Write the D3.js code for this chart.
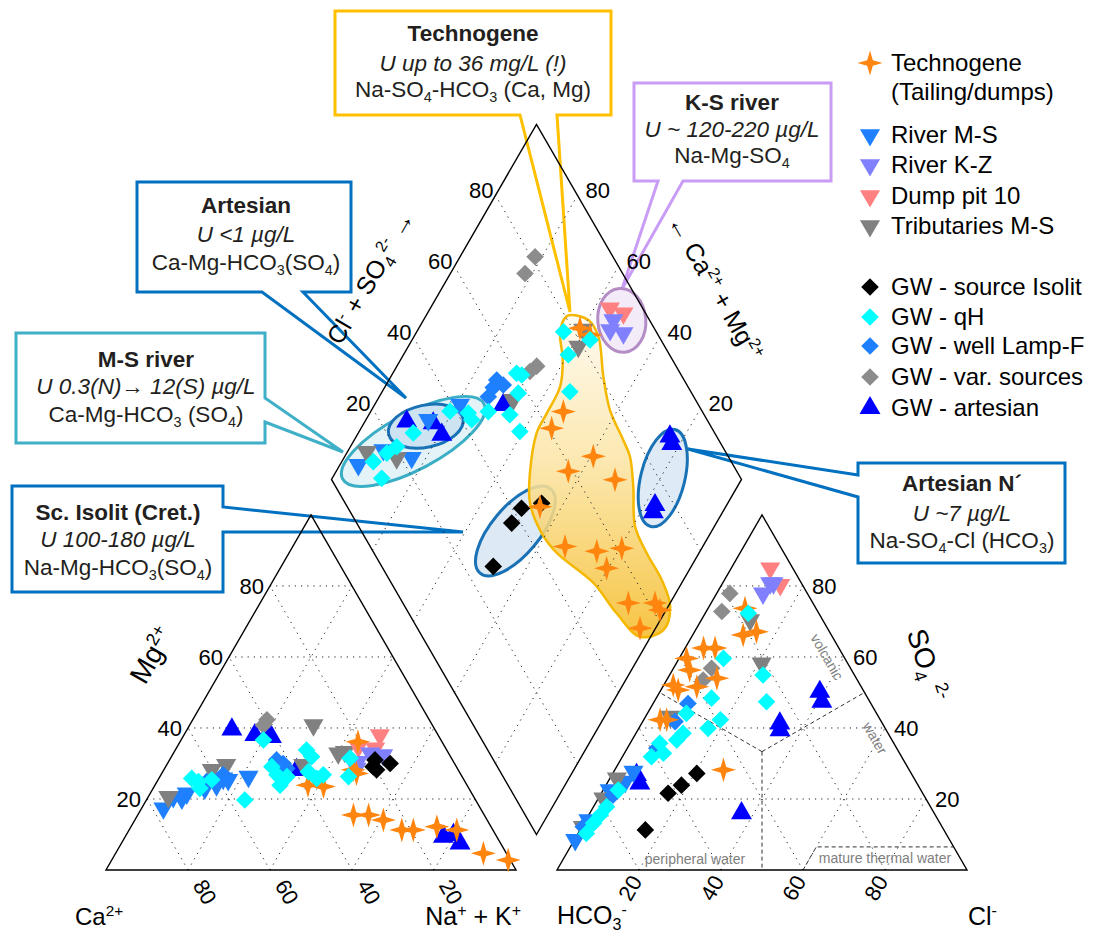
<!DOCTYPE html>
<html>
<head>
<meta charset="utf-8">
<script src="https://cdn.jsdelivr.net/npm/d3@7"></script>
<style>
  body { margin: 0; background: #fff; }
  svg { font-family: "Liberation Sans", Arial, sans-serif; }
</style>
</head>
<body>
<svg id="chart" width="1096" height="936"></svg>
<script>
// --- data ---
// cation triangle: [Mg %, Na+K %]   (Ca = rest)
const techCat = [[36.1,43.4],[28.2,46.2],[27.2,47.5],[23.9,37.3],[23.5,41.3],[15.5,52.6],[15.5,56.3],[14.1,60.6],[11.3,66.5],[11.3,69.3],[12.2,74.6],[11.3,79.9],[4.7,89.7],[2.8,96.7]];
const riverMsCat = [[17.4,5.3],[20.6,6.1],[20.2,8.4],[21.6,8.9],[23,12.6],[23.9,15],[25.8,15.7],[25.4,17.1],[26.3,21.6]];
const riverKzCat = [[32.9,48],[32.4,51.4],[30.5,46.2],[28.6,46.8]];
const pitCat = [[38,47.8],[34.7,44.2],[34.3,48.5]];
const tribCat = [[40.8,30.2],[32.9,40.2],[33.3,41.6],[29.6,14.5],[28.2,11.7],[20.6,4.9],[29.6,33.3]];
const isolitCat = [[31,50.1],[29.1,50.6],[28.2,51.9],[30,54.3]];
const qhCat = [[36.6,20.1],[33.8,32],[31.9,34.2],[29.1,25.9],[26.8,28.3],[23.9,30.5],[27.7,35.5],[25.8,38.5],[26.8,39.6],[31.5,43.8],[26.3,46],[19.7,24],[25.8,8],[24.9,10.1],[23,11.4],[25.4,13.1],[26.3,31]];
const lampCat = [[31,26.1],[30,28.2],[28.6,29.8],[24.9,12.1],[26.8,15.2]];
const varCat = [[42.3,18.1],[40.8,18]];
const artCat = [[39.6,10.9],[38,17.3],[38.5,20.3],[37.5,21.6],[28.2,32.4],[9.4,77.6],[7.5,82.6],[9.9,79.8]];

// anion triangle: [SO4 %, Cl %]   (HCO3 = rest)
const techAn = [[73.7,9],[66.2,12.3],[67.1,15.1],[62.5,4.5],[62.5,7.3],[59.6,1.8],[56.3,4.2],[54,12],[52.1,2.3],[50.7,4.2],[51.6,8.3],[42.3,4],[42.3,5.6],[28.2,26.5]];
const riverMsAn = [[27.7,4.8],[24.9,4.2],[22.5,1.6],[14.1,0.6],[8.5,0.2]];
const riverKzAn = [[77.9,11.3],[80.8,11.6],[80.8,12.4]];
const pitAn = [[85,9.5],[80.3,14.3]];
const tribAn = [[70.4,11.9],[58.2,20.8],[43.2,6],[25.8,1.7],[20.2,1.2],[12.2,0.2]];
const isolitAn = [[27.2,20.5],[23.9,18.4],[21.6,16.3],[11.3,15.9]];
const qhAn = [[72.3,10.5],[59.6,10.8],[54.9,22.8],[47.4,27.4],[48.4,13.5],[42.3,18.7],[39.9,16.9],[44.1,9.5],[38.5,11.5],[36.6,10.9],[35.7,7.2],[31.9,7.1],[32.9,9.5],[22.5,3.7],[17.8,3.2],[15.5,2.8],[10.3,2],[13.2,2.3]];
const lampAn = [[46.9,8.5],[41.8,7.9],[34.3,7.2],[21.1,3.1],[12.2,0.3]];
const varAn = [[77.9,3.2],[72.8,3.8],[56.8,9.3],[53.5,8.9]];
const artAn = [[26.8,6],[24.4,8],[41.3,33.7],[39.4,34.7],[50.2,39],[47.4,40.9],[16,37]];

// diamond: [Cl+SO4 %, Ca+Mg %]
const techDia = [[81.9,60.7],[83.4,57.3],[66.1,53],[60.9,53.5],[67.1,39.4],[58.9,43.4],[69.1,30.8],[47,45.3],[47.5,33.6],[54.6,25.2],[61.1,19.5],[54.6,20.4],[55,10.2],[61.5,3.7],[61.7,1.5],[54.3,3.8]];
const riverMsDia = [[8.6,95.5],[16.8,91.5],[41.9,79.2],[32,84.8],[22.6,83.5]];
const riverKzDia = [[91.2,53.7],[91.8,49.4],[89,53.1]];
const pitDia = [[92,56.2],[94.6,52.2]];
const tribDia = [[82.5,59.7],[78.9,58.5],[12.5,95.3],[55.5,66.9],[18.9,87.1]];
const isolitDia = [[47.9,45.4],[42.3,49.6],[37.8,49.9],[27.2,48.3]];
const qhDia = [[12.4,87.9],[12.7,92.3],[17.2,90.2],[20.5,88.7],[26.5,86.6],[38.5,80.7],[42.7,76],[42.6,74.2],[47.8,71.3],[52.6,65.6],[52.7,60.8],[60.1,69.8],[61.1,68.3],[57.7,66.6],[77.4,64.2],[82.7,56.6],[75.3,59.8],[70.5,54.2]];
const lampDia = [[54.3,73.7],[49.9,73.4],[52.4,73.5],[55.2,71.4]];
const varDia = [[81,81.7],[76.2,81.8],[66,65.9],[63.6,66.8]];
const artDia = [[26.5,89.8],[32.7,83.1],[33.2,79.4],[52.4,68.6],[88.6,23.5],[88,22],[75.3,17.5],[73.9,16.9]];

// Technogene field outline in the diamond [Cl+SO4 %, Ca+Mg %]
const techField = [[81.3,65],[85.1,59.8],[85.2,55],[80.8,48.2],[77.7,41.9],[76.7,34.4],[76,30.4],[72.6,25.4],[67.4,19.3],[66.5,12.7],[66.4,5.3],[64.7,-0.5],[59.8,-2.2],[53.1,2.6],[50.7,11.6],[49.3,21.6],[44.6,34.7],[43.7,41.2],[45.1,48.3],[49.3,52.5],[56.6,56.5],[61.8,56.8],[68.8,57.3],[73.3,60.5],[76.4,64.9],[79.7,65.8]];

const ticks = [20, 40, 60, 80];

// --- series table ---
const tech = {label: "Technogene", color: "#ff850f", shape: "star", cat: techCat, an: techAn, dia: techDia};
const riverMs = {label: "River M-S", color: "#1e80ff", shape: "down", cat: riverMsCat, an: riverMsAn, dia: riverMsDia};
const riverKz = {label: "River K-Z", color: "#8080ff", shape: "down", cat: riverKzCat, an: riverKzAn, dia: riverKzDia};
const pit = {label: "Dump pit 10", color: "#ff8080", shape: "down", cat: pitCat, an: pitAn, dia: pitDia};
const trib = {label: "Tributaries M-S", color: "#808080", shape: "down", cat: tribCat, an: tribAn, dia: tribDia};
const isolit = {label: "GW - source Isolit", color: "#000000", shape: "diamond", cat: isolitCat, an: isolitAn, dia: isolitDia};
const qh = {label: "GW - qH", color: "#00ffff", shape: "diamond", cat: qhCat, an: qhAn, dia: qhDia};
const lamp = {label: "GW - well Lamp-F", color: "#1e80ff", shape: "diamond", cat: lampCat, an: lampAn, dia: lampDia};
const vars = {label: "GW - var. sources", color: "#8c8c8c", shape: "diamond", cat: varCat, an: varAn, dia: varDia};
const art = {label: "GW - artesian", color: "#0000ff", shape: "up", cat: artCat, an: artAn, dia: artDia};

const drawOrder = [art, riverMs, trib, vars, lamp, pit, riverKz, isolit, tech, qh];

// --- geometry ---
const S3 = Math.sqrt(3) / 2;
const L = 410, gap = 41, baseY = 870, leftX0 = 106;
const rightX0 = leftX0 + L + gap;
const botX = leftX0 + L + gap / 2, botY = baseY - gap * S3;
const len = d3.scaleLinear().domain([0, 100]).range([0, L]);

const cat = ([mg, na]) => [leftX0 + len(na + mg / 2), baseY - len(mg) * S3];
const an = ([so4, cl]) => [rightX0 + len(cl + so4 / 2), baseY - len(so4) * S3];
const dia = ([a, b]) => [botX + len(a - b) / 2, botY - len(a + b) * S3];

const svg = d3.select("#chart");
const lineOf = proj => d3.line().x(d => proj(d)[0]).y(d => proj(d)[1]);

// sub/superscript text helper
function rich(text, parts, size) {
  let shift = 0;
  parts.forEach(p => {
    const [t, k] = Array.isArray(p) ? p : [p, ""];
    const target = k === "sub" ? size * 0.24 : k === "sup" ? -size * 0.38 : 0;
    text.append("tspan")
      .attr("dy", target - shift)
      .attr("font-size", k ? size * 0.64 : size)
      .text(t);
    shift = target;
  });
  return text;
}

// --- callout boxes (under everything) ---
const callouts = [
  {color: "#ffc000", pts: [[335,11],[611,11],[611,115],[557,115],[570,312],[520,115],[335,115]], cx: 473, ys: [41,71,97],
   lines: [["Technogene"], ["U up to 36 mg/L (!)"], ["Na-SO", ["4","sub"], "-HCO", ["3","sub"], " (Ca, Mg)"]]},
  {color: "#c99cf5", pts: [[634,83],[831,83],[831,181],[683,181],[622,289],[658,181],[634,181]], cx: 732, ys: [110,137,163],
   lines: [["K-S river"], ["U ~ 120-220 \u00b5g/L"], ["Na-Mg-SO", ["4","sub"]]]},
  {color: "#0070c0", pts: [[137,182],[351,182],[351,292],[303,292],[406,398],[262,292],[137,292]], cx: 246, ys: [213,242,270],
   lines: [["Artesian"], ["U <1 \u00b5g/L"], ["Ca-Mg-HCO", ["3","sub"], "(SO", ["4","sub"], ")"]]},
  {color: "#3fb0c8", pts: [[16,333],[265,333],[265,398],[343,452],[265,422],[265,443],[16,443]], cx: 146, ys: [367,394,422],
   lines: [["M-S river"], ["U 0.3(N)\u2192 12(S)  \u00b5g/L"], ["Ca-Mg-HCO", ["3","sub"], " (SO", ["4","sub"], ")"]]},
  {color: "#0070c0", pts: [[12,486],[223,486],[223,507],[463,532],[223,532],[223,592],[12,592]], cx: 118, ys: [520,547,575],
   lines: [["Sc. Isolit (Cret.)"], ["U 100-180 \u00b5g/L"], ["Na-Mg-HCO", ["3","sub"], "(SO", ["4","sub"], ")"]]},
  {color: "#0070c0", pts: [[858,463],[1065,463],[1065,563],[858,563],[858,497],[688,449],[858,475]], cx: 962, ys: [491,521,548],
   lines: [["Artesian N\u00b4"], ["U ~7 \u00b5g/L"], ["Na-SO", ["4","sub"], "-Cl (HCO", ["3","sub"], ")"]]}
];

const gCall = svg.append("g");
callouts.forEach(c => {
  gCall.append("path")
    .attr("d", d3.line().curve(d3.curveLinearClosed)(c.pts))
    .attr("fill", "#fff").attr("stroke", c.color).attr("stroke-width", 3)
    .attr("stroke-linejoin", "miter");
  c.lines.forEach((parts, i) => {
    const t = gCall.append("text")
      .attr("x", c.cx).attr("y", c.ys[i])
      .attr("text-anchor", "middle").attr("fill", "#231f20")
      .attr("font-weight", i === 0 ? "bold" : null)
      .attr("font-style", i === 1 ? "italic" : null);
    rich(t, parts, 22.5);
  });
});

// --- fields: ellipses and technogene blob ---
const defs = svg.append("defs");
const grad = defs.append("linearGradient").attr("id", "techGrad")
  .attr("x1", 0).attr("y1", 0).attr("x2", 0).attr("y2", 1);
grad.append("stop").attr("offset", "0%").attr("stop-color", "#fffaf0");
grad.append("stop").attr("offset", "45%").attr("stop-color", "#fbe5a6");
grad.append("stop").attr("offset", "100%").attr("stop-color", "#f5bd2c");

const ellipses = [
  {c: [25.3, 85.4], rx: 80, ry: 28, rot: -28, stroke: "#3aaec4", fill: "#e3f3f8"},
  {c: [30.5, 84.5], rx: 38, ry: 21, rot: -12, stroke: "#1a72b6", fill: "#cde3f2"},
  {c: [93.2, 51.6], rx: 24, ry: 32, rot: -5, stroke: "#b58dc6", fill: "#f3ecf8"},
  {c: [37.6, 47.9], rx: 55, ry: 24, rot: -50, stroke: "#1a72b6", fill: "#dde9f5"},
  {c: [81, 19.4], rx: 50, ry: 22, rot: -76, stroke: "#1a72b6", fill: "#deebf6"}
];
const gField = svg.append("g");
ellipses.forEach(e => {
  const [x, y] = dia(e.c);
  gField.append("ellipse")
    .attr("transform", `translate(${x},${y}) rotate(${e.rot})`)
    .attr("rx", e.rx).attr("ry", e.ry)
    .attr("fill", e.fill).attr("stroke", e.stroke).attr("stroke-width", 3);
});
gField.append("path")
  .attr("d", lineOf(dia).curve(d3.curveCatmullRomClosed)(techField))
  .attr("fill", "url(#techGrad)").attr("fill-opacity", 0.88)
  .attr("stroke", "#f5b800").attr("stroke-width", 2.5);

// --- grids ---
const gGrid = svg.append("g")
  .attr("fill", "none").attr("stroke", "#222").attr("stroke-width", 1)
  .attr("stroke-dasharray", "1.2 5");
ticks.forEach(k => {
  [[[k,0],[k,100-k]], [[0,k],[100-k,k]], [[0,100-k],[100-k,0]]].forEach(seg => {
    gGrid.append("path").attr("d", lineOf(cat)(seg));
    gGrid.append("path").attr("d", lineOf(an)(seg));
  });
  gGrid.append("path").attr("d", lineOf(dia)([[k,0],[k,100]]));
  gGrid.append("path").attr("d", lineOf(dia)([[0,k],[100,k]]));
});

// classification lines in the anion triangle
const gDash = svg.append("g")
  .attr("fill", "none").attr("stroke", "#333").attr("stroke-width", 1)
  .attr("stroke-dasharray", "4 3");
[[[100/3,100/3],[50,0]], [[100/3,100/3],[50,50]], [[100/3,100/3],[0,50]], [[0,60],[6.5,60],[6.5,93.5]]]
  .forEach(seg => gDash.append("path").attr("d", lineOf(an)(seg)));

// --- outlines ---
const gOut = svg.append("g").attr("fill", "none").attr("stroke", "#000").attr("stroke-width", 1.4);
const tri = [[0,0],[0,100],[100,0]];
gOut.append("path").attr("d", lineOf(cat).curve(d3.curveLinearClosed)(tri));
gOut.append("path").attr("d", lineOf(an).curve(d3.curveLinearClosed)(tri));
gOut.append("path").attr("d", lineOf(dia).curve(d3.curveLinearClosed)([[0,0],[100,0],[100,100],[0,100]]));

// --- tick labels ---
const gTick = svg.append("g").attr("font-size", 22).attr("fill", "#000");
ticks.forEach(k => {
  let [x, y] = cat([k, 0]);
  gTick.append("text").attr("x", x - 6).attr("y", y + 8).attr("text-anchor", "end").text(k);
  [x, y] = cat([0, 100 - k]);
  gTick.append("text").attr("transform", `translate(${x + 17},${y + 22}) rotate(60)`)
    .attr("text-anchor", "middle").attr("dy", "0.35em").text(k);
  [x, y] = an([0, k]);
  gTick.append("text").attr("transform", `translate(${x - 9},${y + 18}) rotate(-60)`)
    .attr("text-anchor", "middle").attr("dy", "0.35em").text(k);
  [x, y] = an([k, 100 - k]);
  gTick.append("text").attr("x", x + 9).attr("y", y + 8).text(k);
  [x, y] = dia([k, 100]);
  gTick.append("text").attr("x", x - 2).attr("y", y + 3).attr("text-anchor", "end").text(k);
  [x, y] = dia([100, k]);
  gTick.append("text").attr("x", x + 8).attr("y", y + 3).text(k);
});

// --- axis titles ---
const gAx = svg.append("g").attr("fill", "#000");
rich(gAx.append("text").attr("transform", "translate(160,660) rotate(-60)").attr("text-anchor", "middle").attr("dy", 9),
  ["Mg", ["2+", "sup"]], 28);
rich(gAx.append("text").attr("x", 75).attr("y", 925), ["Ca", ["2+", "sup"]], 24);
rich(gAx.append("text").attr("x", 521).attr("y", 925).attr("text-anchor", "end"), ["Na", ["+", "sup"], " + K", ["+", "sup"]], 25);
rich(gAx.append("text").attr("x", 557).attr("y", 924), ["HCO", ["3", "sub"], ["-", "sup"]], 25);
rich(gAx.append("text").attr("x", 968).attr("y", 925), ["Cl", ["-", "sup"]], 25);
rich(gAx.append("text").attr("transform", "translate(918,668) rotate(72)").attr("text-anchor", "middle").attr("dy", 9),
  ["SO", ["4", "sub"], " ", ["2-", "sup"]], 28);
rich(gAx.append("text").attr("transform", "translate(378,282) rotate(-60)").attr("text-anchor", "middle").attr("dy", 8),
  ["Cl", ["-", "sup"], " + SO", ["4", "sub"], ["2-", "sup"], " \u2192"], 25);
rich(gAx.append("text").attr("transform", "translate(708,292) rotate(60)").attr("text-anchor", "middle").attr("dy", 8),
  ["\u2190 Ca", ["2+", "sup"], " + Mg", ["2+", "sup"]], 25);

// water type notes in the anion triangle
const gNote = svg.append("g").attr("fill", "#808080").attr("font-size", 14).attr("text-anchor", "middle");
gNote.append("text").attr("transform", "translate(827,657) rotate(60)").attr("dy", "0.35em").text("volcanic");
gNote.append("text").attr("transform", "translate(875,738) rotate(60)").attr("dy", "0.35em").text("water");
gNote.append("text").attr("x", 695).attr("y", 864).text("peripheral water");
gNote.append("text").attr("x", 885).attr("y", 863).text("mature thermal water");

// --- markers ---
const starPath = d3.lineRadial().curve(d3.curveLinearClosed)(
  d3.range(8).map(i => [i * Math.PI / 4, i % 2 ? 4 : 12.5]));
const shapePath = {
  star: starPath,
  diamond: d3.symbol(d3.symbolSquare, 155)(),
  up: d3.symbol(d3.symbolTriangle, 190)(),
  down: d3.symbol(d3.symbolTriangle, 175)()
};
const shapeRot = {star: 0, diamond: 45, up: 0, down: 180};

function drawPoints(proj, key) {
  const g = svg.append("g");
  drawOrder.forEach(s => {
    g.selectAll(null).data(s[key]).join("path")
      .attr("d", shapePath[s.shape])
      .attr("transform", d => {
        const [x, y] = proj(d);
        return `translate(${x},${y}) rotate(${shapeRot[s.shape]})`;
      })
      .attr("fill", s.color);
  });
}
drawPoints(cat, "cat");
drawPoints(an, "an");
drawPoints(dia, "dia");

// --- legend ---
const legendRows = [
  {s: tech, y: 63, extra: "(Tailing/dumps)"},
  {s: riverMs, y: 135}, {s: riverKz, y: 165}, {s: pit, y: 196}, {s: trib, y: 226},
  {s: isolit, y: 287}, {s: qh, y: 317}, {s: lamp, y: 346}, {s: vars, y: 377}, {s: art, y: 408}
];
const gLeg = svg.append("g").attr("font-size", 24).attr("fill", "#000");
legendRows.forEach(r => {
  gLeg.append("path").attr("d", shapePath[r.s.shape])
    .attr("transform", `translate(870,${r.y}) rotate(${shapeRot[r.s.shape]})`)
    .attr("fill", r.s.color);
  gLeg.append("text").attr("x", 891).attr("y", r.y + 8).text(r.s.label);
  if (r.extra) gLeg.append("text").attr("x", 891).attr("y", r.y + 37).text(r.extra);
});
</script>
</body>
</html>
